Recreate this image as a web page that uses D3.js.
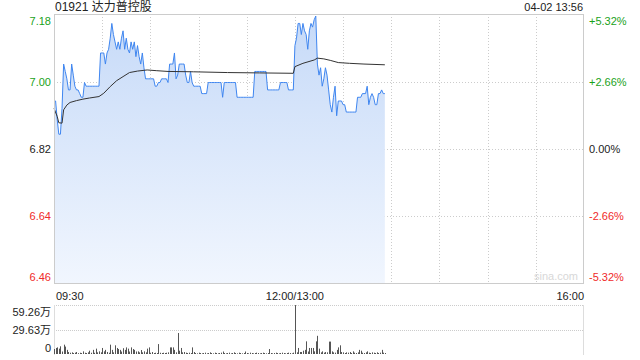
<!DOCTYPE html>
<html>
<head>
<meta charset="utf-8">
<script src="https://cdn.jsdelivr.net/npm/d3@7"></script>
<style>
  body { margin: 0; background: #fff; }
  svg { display: block; font-family: "Liberation Sans", Arial, "Noto Sans CJK SC", sans-serif; }
</style>
</head>
<body>
<svg id="chart" width="640" height="360"></svg>
<script>
// minute-by-minute price, 09:30 onward (12:00 and 13:00 share one slot)
var prices = [
  6.95,6.95,6.90,6.86,6.86,6.93,7.05,7.03,7.01,6.98,
  6.98,7.05,7.02,6.99,6.98,6.98,6.97,6.96,6.96,7.00,
  6.99,6.99,6.99,6.99,6.99,6.99,6.99,6.99,6.99,7.08,
  7.08,7.08,7.05,7.08,7.09,7.12,7.16,7.13,7.11,7.09,
  7.11,7.09,7.12,7.14,7.09,7.12,7.09,7.08,7.11,7.09,
  7.11,7.07,7.10,7.07,7.05,7.08,7.04,7.01,7.01,7.01,
  7.01,7.01,7.01,6.99,6.99,7.00,7.00,7.01,7.01,7.01,
  7.01,7.00,7.05,7.05,7.05,7.08,7.01,7.02,7.05,7.05,
  7.05,7.05,7.02,7.00,7.00,7.03,7.00,6.99,6.99,6.99,
  6.99,6.99,6.97,6.97,6.97,6.97,7.00,7.00,7.00,7.00,
  7.00,7.00,7.00,7.00,7.00,6.96,7.00,7.00,7.00,7.00,
  7.00,7.00,7.00,7.00,6.96,6.96,6.96,6.96,6.96,6.96,
  6.96,6.96,6.96,6.96,6.96,7.03,7.03,7.03,7.03,7.03,
  7.03,7.03,7.03,6.98,6.98,6.98,6.98,6.98,6.98,6.98,
  6.98,7.00,7.00,7.00,7.00,7.00,6.98,6.98,6.98,6.98,
  7.10,7.12,7.16,7.16,7.13,7.16,7.14,7.13,7.09,7.14,
  7.16,7.15,7.17,7.18,7.05,7.02,7.04,6.99,7.01,7.04,
  7.02,6.98,6.94,6.92,6.96,6.99,6.91,6.95,6.95,6.95,
  6.94,6.94,6.92,6.92,6.92,6.92,6.92,6.92,6.92,6.96,
  6.96,6.96,6.97,6.97,6.97,6.99,6.94,6.96,6.97,6.96,
  6.94,6.94,6.97,6.97,6.98,6.97,6.97
];

// average price line, read at these minutes
var avgMinutes = [0,2,3,5,6,8,10,14,18,22,28,31,35,39,43,47,52,58,64,71,87,108,128,149,150,155,162,164,168,172,177,184,193,206];
var avgPrices = [6.930,6.908,6.891,6.890,6.926,6.939,6.946,6.951,6.955,6.958,6.962,6.971,6.989,7.005,7.016,7.027,7.031,7.034,7.032,7.030,7.029,7.027,7.026,7.025,7.043,7.052,7.061,7.066,7.064,7.060,7.054,7.052,7.050,7.048];

// volume per minute, in 万 shares
var volumes = [
  6,7.3,8,6.5,9.3,3,11.3,9,5,2.4,
  1.5,2,1.2,1.6,2.4,1,1.5,1.2,3.2,1.5,
  1.2,2,4,1.5,5,1.5,6.5,2,3.2,2,
  7.3,3.2,5,2.4,1.5,11.3,5,2,10.5,7.3,
  6,5,3,7,5,8,6.5,3,8,6,
  5,3,3.2,2,4.8,2,3.2,2,6.5,8,
  1.5,2.4,1.2,1.5,1.2,12,1.5,1.2,1.5,1.2,
  1.5,2,8,8,8,5,2,25.4,4,7.3,
  2,2.4,1.6,1.2,1.6,1.2,8,2.4,1.2,0.8,
  1.6,1.2,0.8,1.2,1.6,0.8,1.2,2,1.2,0.8,
  1.6,1.2,0.8,1.2,1.6,3,1.2,0.8,1.2,1.6,
  0.8,1.2,2,1.2,0.8,1.6,1.2,0.8,1.2,3,
  1.2,0.8,1.6,1.2,0.8,1.2,1.6,1.2,0.8,1.2,
  1.6,1.2,0.8,1.2,6,1.2,0.8,1.2,1.6,1.2,
  0.8,1.2,1.6,1.2,0.8,1.2,1.6,1.2,0.8,1.6,
  59.2,2,7.3,2.4,2.4,4,5,15.3,3,7.3,
  7.3,7.3,3.2,15.3,22,6.5,2,3.2,1.6,2.4,
  2,15,15,3.2,2,1.6,5,8,10.5,2.4,
  2,1.2,2,1.6,2.4,1.2,3.2,1.6,1.2,2,
  5,4,1.6,1.2,2,3.2,1.6,1.2,2,1.6,
  1.2,2,1.2,1.6,5,1.6,1.2
];

var prevClose = 6.82;
var priceTicks = ['7.18', '7.00', '6.82', '6.64', '6.46'];
var pctTicks = ['+5.32%', '+2.66%', '0.00%', '-2.66%', '-5.32%'];
var volTicks = ['59.26万', '29.63万', '0'];
var volMax = 59.26;
var timeLabels = ['09:30', '12:00/13:00', '16:00'];
var timeLabelMinutes = [0, 150, 330];
var totalMinutes = 330;

function draw() {
    var svg = d3.select('#chart');
    var pLeft = 54, pRight = 584, pTop = 15, pBottom = 283;
    var green = '#1aa21a', red = '#f02a2a';

    var x = d3.scaleLinear().domain([0, totalMinutes]).range([pLeft, pRight]);
    var y = d3.scaleLinear()
        .domain([prevClose * (1 - 0.0532), prevClose * (1 + 0.0532)])
        .range([pBottom, pTop]);
    var yv = d3.scaleLinear().domain([0, volMax]).range([354, 305]);

    var defs = svg.append('defs');
    var grad = defs.append('linearGradient')
        .attr('id', 'fillGrad')
        .attr('gradientUnits', 'userSpaceOnUse')
        .attr('x1', 0).attr('y1', pTop).attr('x2', 0).attr('y2', pBottom);
    grad.append('stop').attr('offset', 0).attr('stop-color', '#c6daf8');
    grad.append('stop').attr('offset', 1).attr('stop-color', '#f1f6fe');

    // grid
    svg.append('g').selectAll('line')
        .data([0.25, 0.5, 0.75])
        .enter().append('line')
        .attr('x1', pLeft).attr('x2', pRight)
        .attr('y1', function(d) { return Math.round(pTop + d * (pBottom - pTop)) + 0.5; })
        .attr('y2', function(d) { return Math.round(pTop + d * (pBottom - pTop)) + 0.5; })
        .attr('stroke', '#ccc')
        .attr('stroke-dasharray', '1,2');

    var halfHours = d3.range(1, 11).map(function(i) { return i * 30; });
    svg.append('g').selectAll('line')
        .data(halfHours)
        .enter().append('line')
        .attr('x1', function(d) { return Math.round(x(d)) + 0.5; })
        .attr('x2', function(d) { return Math.round(x(d)) + 0.5; })
        .attr('y1', pTop - 1).attr('y2', pBottom + 1)
        .attr('stroke', '#ccc')
        .attr('stroke-dasharray', '1,2');

    svg.append('text')
        .attr('x', 578).attr('y', 280)
        .attr('text-anchor', 'end')
        .attr('font-size', 11)
        .attr('fill', '#d8d8d8')
        .text('sina.com');

    // price area and line
    var area = d3.area()
        .x(function(d, i) { return x(i); })
        .y0(pBottom + 1)
        .y1(function(d) { return y(d); });
    svg.append('path')
        .datum(prices)
        .attr('d', area)
        .attr('fill', 'url(#fillGrad)');

    var line = d3.line()
        .x(function(d, i) { return x(i); })
        .y(function(d) { return y(d); });
    svg.append('path')
        .datum(prices)
        .attr('d', line)
        .attr('fill', 'none')
        .attr('stroke', '#3f86f0')
        .attr('stroke-width', 1);

    var avgLine = d3.line()
        .x(function(d, i) { return x(avgMinutes[i]); })
        .y(function(d) { return y(d); });
    svg.append('path')
        .datum(avgPrices)
        .attr('d', avgLine)
        .attr('fill', 'none')
        .attr('stroke', '#333')
        .attr('stroke-width', 1);

    // border
    svg.append('rect')
        .attr('x', pLeft + 0.5).attr('y', pTop - 0.5)
        .attr('width', pRight - pLeft - 1).attr('height', pBottom - pTop + 1)
        .attr('fill', 'none')
        .attr('stroke', '#ccc');

    // axis labels
    var tickColor = function(i) { return i < 2 ? green : (i === 2 ? '#222' : red); };
    var labelY = function(i) {
        var v = pTop + i * (pBottom - pTop) / 4;
        if (i === 0) v += 6;
        if (i === 4) v -= 6;
        return v;
    };
    svg.append('g').selectAll('text')
        .data(priceTicks)
        .enter().append('text')
        .attr('x', 51)
        .attr('y', function(d, i) { return labelY(i); })
        .attr('dy', '0.35em')
        .attr('text-anchor', 'end')
        .attr('font-size', 11)
        .attr('fill', function(d, i) { return tickColor(i); })
        .text(function(d) { return d; });

    svg.append('g').selectAll('text')
        .data(pctTicks)
        .enter().append('text')
        .attr('x', 589)
        .attr('y', function(d, i) { return labelY(i); })
        .attr('dy', '0.35em')
        .attr('font-size', 11)
        .attr('fill', function(d, i) { return tickColor(i); })
        .text(function(d) { return d; });

    svg.append('g').selectAll('text')
        .data(timeLabels)
        .enter().append('text')
        .attr('x', function(d, i) { return x(timeLabelMinutes[i]) + (i === 0 ? 2 : 0); })
        .attr('y', 296)
        .attr('dy', '0.35em')
        .attr('text-anchor', function(d, i) { return i === 0 ? 'start' : (i === 1 ? 'middle' : 'end'); })
        .attr('font-size', 11)
        .attr('fill', '#222')
        .text(function(d) { return d; });

    // title and time
    svg.append('text')
        .attr('x', 55).attr('y', 11)
        .attr('font-size', 12)
        .attr('fill', '#222')
        .text('01921 达力普控股');
    svg.append('text')
        .attr('x', 583).attr('y', 11)
        .attr('text-anchor', 'end')
        .attr('font-size', 11)
        .attr('fill', '#222')
        .text('04-02 13:56');

    // volume panel
    svg.append('g').selectAll('line')
        .data([volMax, volMax / 2])
        .enter().append('line')
        .attr('x1', pLeft).attr('x2', pRight)
        .attr('y1', function(d) { return Math.round(yv(d)) + 0.5; })
        .attr('y2', function(d) { return Math.round(yv(d)) + 0.5; })
        .attr('stroke', '#ccc')
        .attr('stroke-dasharray', '1,1');
    svg.append('line')
        .attr('x1', pLeft + 0.5).attr('x2', pLeft + 0.5)
        .attr('y1', 305).attr('y2', 355)
        .attr('stroke', '#ddd');
    svg.append('line')
        .attr('x1', pRight - 0.5).attr('x2', pRight - 0.5)
        .attr('y1', 305).attr('y2', 355)
        .attr('stroke', '#ddd');

    svg.append('g').selectAll('rect')
        .data(volumes)
        .enter().append('rect')
        .attr('x', function(d, i) { return Math.round(x(i)); })
        .attr('y', function(d) { return yv(d); })
        .attr('width', 1)
        .attr('height', function(d) { return yv(0) - yv(d); })
        .attr('fill', '#555');

    svg.append('g').selectAll('text')
        .data(volTicks)
        .enter().append('text')
        .attr('x', 51)
        .attr('y', function(d, i) { return [312, 330, 348][i]; })
        .attr('dy', '0.35em')
        .attr('text-anchor', 'end')
        .attr('font-size', 11)
        .attr('fill', '#222')
        .text(function(d) { return d; });
}

draw();
</script>
</body>
</html>
